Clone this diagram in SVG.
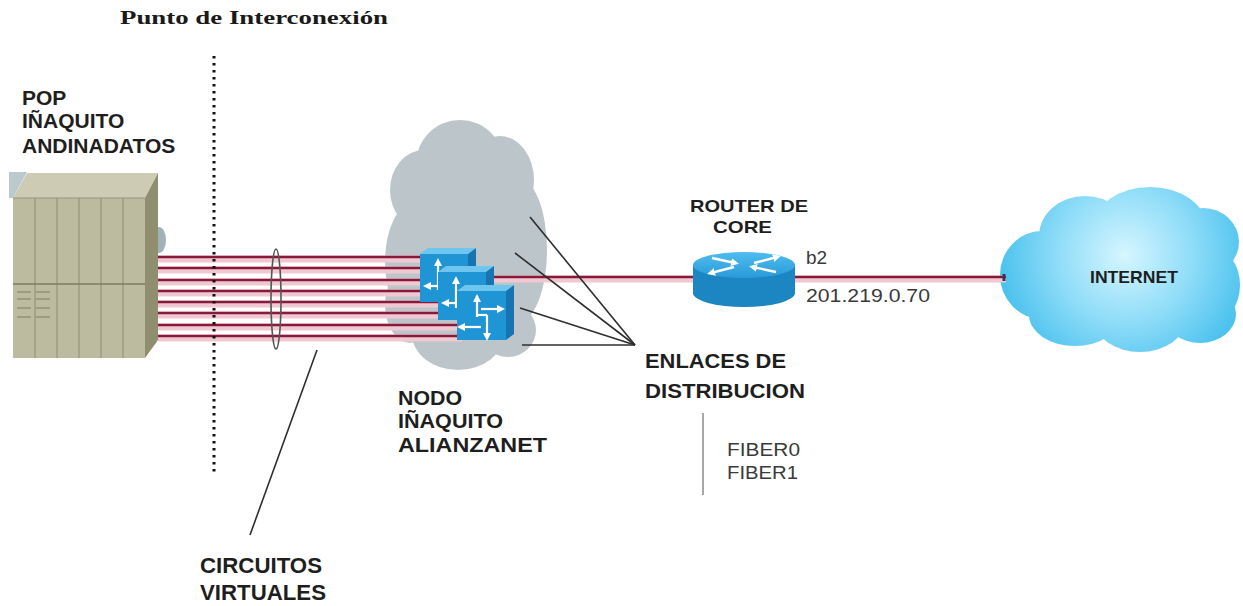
<svg xmlns="http://www.w3.org/2000/svg" width="1243" height="606" viewBox="0 0 1243 606">
  <defs>
    <style>
      .lbl { font-family: "Liberation Sans", Arial, sans-serif; font-weight: bold; fill: #1e1e1e; }
      .thin { font-family: "Liberation Sans", Arial, sans-serif; fill: #3a3a3a; }
      .ptr { stroke: #2e2e2e; stroke-width: 1.6; fill: none; }
      .halo { stroke: #f0c8d2; stroke-width: 7; fill: none; }
      .core { stroke: #8a1838; stroke-width: 2.6; fill: none; }
      .sw-top { fill: #6ec6ee; }
      .sw-front { fill: #1f95d6; }
      .sw-side { fill: #1675b0; }
      .warr { stroke: #ffffff; stroke-width: 2.2; fill: none; marker-end: url(#wa); }
    </style>
    <marker id="wa" markerUnits="userSpaceOnUse" markerWidth="8" markerHeight="8" refX="4" refY="4" orient="auto">
      <path d="M0,0 L8,4 L0,8 Z" fill="#ffffff"/>
    </marker>
    <radialGradient id="inetGrad" gradientUnits="userSpaceOnUse" cx="1125" cy="255" r="125">
      <stop offset="0" stop-color="#d6f6ff"/>
      <stop offset="0.55" stop-color="#8edcf8"/>
      <stop offset="1" stop-color="#4cc2ee"/>
    </radialGradient>
    <linearGradient id="rtTop" x1="0" y1="0" x2="0" y2="1">
      <stop offset="0" stop-color="#4fbdf0"/>
      <stop offset="1" stop-color="#2a9ad8"/>
    </linearGradient>
  </defs>

  <rect width="1243" height="606" fill="#ffffff"/>

  <!-- heading -->
  <text x="120" y="24" font-family="'Liberation Serif', 'Times New Roman', serif" font-weight="bold" font-size="18" fill="#1a1a1a" textLength="268" lengthAdjust="spacingAndGlyphs">Punto de Interconexión</text>

  <!-- access node cloud (grey) -->
  <g id="node-cloud" fill="#bcc6ca">
    <ellipse cx="460" cy="164" rx="44" ry="44"/>
    <ellipse cx="424" cy="190" rx="34" ry="40"/>
    <ellipse cx="500" cy="180" rx="34" ry="44"/>
    <ellipse cx="415" cy="262" rx="30" ry="60"/>
    <ellipse cx="410" cy="305" rx="25" ry="38"/>
    <ellipse cx="470" cy="252" rx="68" ry="92"/>
    <ellipse cx="518" cy="250" rx="29" ry="72"/>
    <ellipse cx="458" cy="334" rx="46" ry="36"/>
    <ellipse cx="508" cy="330" rx="28" ry="27"/>
  </g>

  <!-- internet cloud -->
  <g id="internet" fill="url(#inetGrad)">
    <ellipse cx="1085" cy="236" rx="46" ry="40"/>
    <ellipse cx="1150" cy="226" rx="56" ry="39"/>
    <ellipse cx="1203" cy="242" rx="36" ry="34"/>
    <ellipse cx="1042" cy="275" rx="42" ry="44"/>
    <ellipse cx="1120" cy="275" rx="100" ry="56"/>
    <ellipse cx="1214" cy="285" rx="26" ry="36"/>
    <ellipse cx="1075" cy="315" rx="46" ry="31"/>
    <ellipse cx="1140" cy="319" rx="46" ry="33"/>
    <ellipse cx="1200" cy="314" rx="36" ry="29"/>
    <text class="lbl" x="1090" y="283" font-size="17" textLength="88" lengthAdjust="spacingAndGlyphs">INTERNET</text>
  </g>

  <!-- POP rack -->
  <g id="pop-rack">
    <polygon points="9,172 27,172 13,198 9,198" fill="#b9c9cd"/>
    <ellipse cx="159" cy="240" rx="7" ry="13" fill="#9fb3b8"/>
    <polygon points="13,198 27,173 158,173 145,198" fill="#cdcbb3"/>
    <polygon points="145,198 158,173 158,340 145,358" fill="#8f8e6e"/>
    <rect x="13" y="198" width="132" height="160" fill="#bdbb9f"/>
    <g stroke="#97957a" stroke-width="1.2">
      <line x1="35" y1="198" x2="35" y2="358"/>
      <line x1="57" y1="198" x2="57" y2="358"/>
      <line x1="79" y1="198" x2="79" y2="358"/>
      <line x1="101" y1="198" x2="101" y2="358"/>
      <line x1="123" y1="198" x2="123" y2="358"/>
      <line x1="13" y1="198" x2="145" y2="198"/>
    </g>
    <line x1="13" y1="284" x2="145" y2="284" stroke="#7d7b62" stroke-width="1.5"/>
    <g stroke="#8c8a70" stroke-width="1.3">
      <line x1="17" y1="292" x2="31" y2="292"/>
      <line x1="36" y1="292" x2="50" y2="292"/>
      <line x1="17" y1="299" x2="31" y2="299"/>
      <line x1="36" y1="299" x2="50" y2="299"/>
      <line x1="17" y1="308" x2="31" y2="308"/>
      <line x1="36" y1="308" x2="50" y2="308"/>
      <line x1="17" y1="317" x2="31" y2="317"/>
      <line x1="36" y1="317" x2="50" y2="317"/>
    </g>
  </g>

  <g id="connectors">
    <!-- virtual circuits: pink halo -->
    <g class="halo">
      <line x1="158" y1="259" x2="425" y2="259"/>
      <line x1="158" y1="270" x2="425" y2="270"/>
      <line x1="158" y1="282" x2="425" y2="282"/>
      <line x1="158" y1="293" x2="425" y2="293"/>
      <line x1="158" y1="304" x2="443" y2="304"/>
      <line x1="158" y1="315" x2="443" y2="315"/>
      <line x1="158" y1="327" x2="462" y2="327"/>
      <line x1="158" y1="338" x2="462" y2="338"/>
      <line x1="480" y1="279" x2="1006" y2="279"/>
    </g>
    <!-- virtual circuits: dark core -->
    <g class="core">
      <line x1="158" y1="257" x2="425" y2="257"/>
      <line x1="158" y1="268" x2="425" y2="268"/>
      <line x1="158" y1="280" x2="425" y2="280"/>
      <line x1="158" y1="291" x2="425" y2="291"/>
      <line x1="158" y1="302" x2="443" y2="302"/>
      <line x1="158" y1="313" x2="443" y2="313"/>
      <line x1="158" y1="325" x2="462" y2="325"/>
      <line x1="158" y1="336" x2="462" y2="336"/>
      <line x1="480" y1="277" x2="1006" y2="277"/>
    </g>
    <line x1="1004" y1="274" x2="1004" y2="281" stroke="#2a3e5a" stroke-width="3"/>

    <!-- bundle ring -->
    <ellipse cx="276" cy="299" rx="5" ry="50" fill="none" stroke="#555555" stroke-width="1.6"/>
    <!-- interconnection boundary -->
    <line x1="214" y1="56" x2="214" y2="472" stroke="#111111" stroke-width="3" stroke-dasharray="2.5 4.5"/>

    <!-- label pointers -->
    <line class="ptr" x1="317" y1="350" x2="250" y2="535"/>
    <line class="ptr" x1="530" y1="217" x2="635" y2="345"/>
    <line class="ptr" x1="515" y1="253" x2="635" y2="345"/>
    <line class="ptr" x1="520" y1="308" x2="635" y2="345"/>
    <line class="ptr" x1="522" y1="345" x2="635" y2="345"/>
    <line x1="703" y1="413" x2="703" y2="495" stroke="#777777" stroke-width="1.3"/>
  </g>

  <!-- stacked multilayer switches -->
  <g id="switch-1" transform="translate(420,248)">
    <polygon class="sw-top" points="0,6 8,0 56,0 48,6"/>
    <polygon class="sw-side" points="48,6 56,0 56,48 48,54"/>
    <rect class="sw-front" x="0" y="6" width="48" height="48"/>
    <line class="warr" x1="18" y1="42" x2="18" y2="14"/>
    <line class="warr" x1="20" y1="38" x2="7" y2="38"/>
  </g>
  <g id="switch-2" transform="translate(438,266)">
    <polygon class="sw-top" points="0,6 8,0 56,0 48,6"/>
    <polygon class="sw-side" points="48,6 56,0 56,48 48,54"/>
    <rect class="sw-front" x="0" y="6" width="48" height="48"/>
    <line class="warr" x1="18" y1="42" x2="18" y2="14"/>
    <line class="warr" x1="20" y1="37" x2="7" y2="37"/>
  </g>
  <g id="switch-3" transform="translate(457,285)">
    <polygon class="sw-top" points="0,6 8,0 57,0 49,6"/>
    <polygon class="sw-side" points="49,6 57,0 57,49 49,55"/>
    <rect class="sw-front" x="0" y="6" width="49" height="49"/>
    <line class="warr" x1="20" y1="32" x2="20" y2="13"/>
    <line class="warr" x1="24" y1="24" x2="44" y2="24"/>
    <line class="warr" x1="24" y1="42" x2="4" y2="42"/>
    <line class="warr" x1="30" y1="30" x2="30" y2="52"/>
    <line x1="20" y1="30" x2="30" y2="30" stroke="#ffffff" stroke-width="2.2"/>
  </g>

  <!-- core router -->
  <g id="core-router">
    <path d="M693,265 L693,293 A51,14 0 0 0 795,293 L795,265 Z" fill="#1b86c2"/>
    <ellipse cx="744" cy="265" rx="51" ry="13" fill="url(#rtTop)"/>
    <g stroke="#ffffff" stroke-width="2.4" fill="none" marker-end="url(#wa)">
      <line x1="712" y1="258" x2="735" y2="263"/>
      <line x1="776" y1="272" x2="753" y2="267"/>
      <line x1="754" y1="263" x2="777" y2="257"/>
      <line x1="734" y1="267" x2="711" y2="273"/>
    </g>
  </g>

  <!-- labels -->
  <g id="pop-label" class="lbl" font-size="21">
    <text x="22" y="105">POP</text>
    <text x="22" y="128">IÑAQUITO</text>
    <text x="22" y="153">ANDINADATOS</text>
  </g>
  <g id="node-label" class="lbl" font-size="21">
    <text x="398" y="405" textLength="64" lengthAdjust="spacingAndGlyphs">NODO</text>
    <text x="398" y="428" textLength="105" lengthAdjust="spacingAndGlyphs">IÑAQUITO</text>
    <text x="398" y="452" textLength="149" lengthAdjust="spacingAndGlyphs">ALIANZANET</text>
  </g>
  <g id="router-label" class="lbl" font-size="17">
    <text x="690" y="212" textLength="118" lengthAdjust="spacingAndGlyphs">ROUTER DE</text>
    <text x="713" y="233" textLength="59" lengthAdjust="spacingAndGlyphs">CORE</text>
  </g>
  <g id="iface-label" class="thin" font-size="19">
    <text x="806" y="264">b2</text>
    <text x="806" y="302" textLength="124" lengthAdjust="spacingAndGlyphs">201.219.0.70</text>
  </g>
  <g id="dist-label" class="lbl" font-size="21">
    <text x="645" y="368" textLength="141" lengthAdjust="spacingAndGlyphs">ENLACES DE</text>
    <text x="645" y="398" textLength="160" lengthAdjust="spacingAndGlyphs">DISTRIBUCION</text>
  </g>
  <g id="fiber-label" class="thin" font-size="19">
    <text x="727" y="456" textLength="73" lengthAdjust="spacingAndGlyphs">FIBER0</text>
    <text x="727" y="479" textLength="71" lengthAdjust="spacingAndGlyphs">FIBER1</text>
  </g>
  <g id="vc-label" class="lbl" font-size="22">
    <text x="200" y="573" textLength="122" lengthAdjust="spacingAndGlyphs">CIRCUITOS</text>
    <text x="200" y="600" textLength="126" lengthAdjust="spacingAndGlyphs">VIRTUALES</text>
  </g>
</svg>
